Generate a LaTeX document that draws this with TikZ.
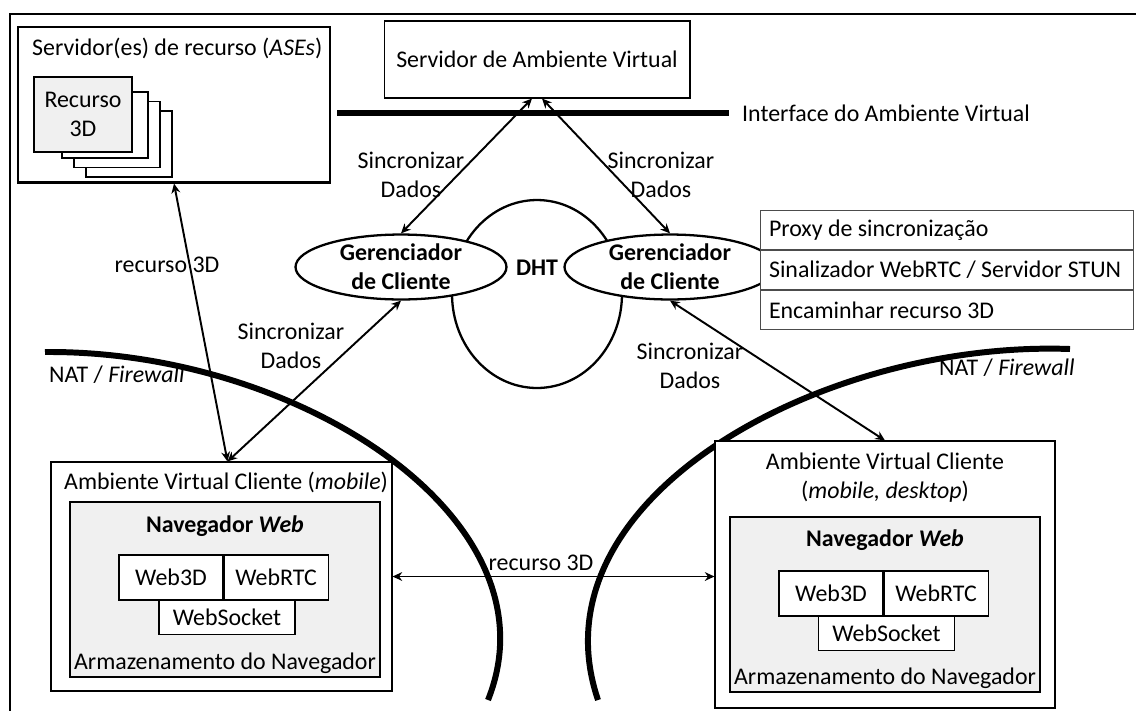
\documentclass[tikz,border=0pt]{standalone}
\usepackage{fontspec}
\setmainfont{Carlito}
\usetikzlibrary{positioning,fit,shapes.geometric,arrows.meta}

\newcommand{\figfont}{\fontsize{13.6}{16.5}\selectfont}

\tikzset{
  box/.style={draw, line width=0.6pt, inner sep=0pt},
  graybox/.style={box, fill=gray!12},
  cell/.style={draw, fill=white, line width=0.6pt, inner sep=0pt, minimum height=0.9cm},
  mgr/.style={ellipse, draw, fill=white, line width=1.3pt, inner sep=0pt,
    minimum width=4.22cm, minimum height=1.1cm, align=center, font=\figfont\bfseries},
  tabrow/.style={draw=black!70, fill=white, line width=0.6pt, anchor=north west,
    minimum height=0.78cm, text width=7.12cm, inner xsep=0.17cm, align=flush left},
  link/.style={{Stealth[length=5.5pt,width=5pt]}-{Stealth[length=5.5pt,width=5pt]}, line width=1.1pt},
  wall/.style={line width=3.4pt},
  lbl/.style={align=center, inner sep=0pt}
}

\begin{document}
\begin{tikzpicture}[x=0.02cm, y=-0.02cm, font=\figfont]
  \useasboundingbox (0,0) rectangle (1136,711);

  % frame
  \draw[line width=1.7pt] (1136,14) -- (10,14) -- (10,711);

  % resource servers
  \node (res) [box, line width=1.7pt, fit={(18,27) (330,182)}] {};
  \node (resT) [anchor=west] at (26,48) {Servidor(es) de recurso (\textit{ASEs})};
  \foreach \k in {3,2,1}
    \draw[fill=white, line width=0.6pt] (50+12*\k, 82.5+9.5*\k) rectangle ++(86,66);
  \node (res3d) [graybox, minimum width=1.96cm, minimum height=1.5cm, align=center]
    at (83,114.5) {Recurso\\3D};

  % virtual environment server
  \node (vsrv) [box, minimum width=6.12cm, minimum height=1.54cm] at (537,59.5)
    {Servidor de Ambiente Virtual};
  \draw[line width=3.4pt] (337,113) -- (729,113);
  \node (ifcT) [anchor=west] at (736,113) {Interface do Ambiente Virtual};

  % DHT
  \node (dht) [ellipse, draw, line width=1.3pt, minimum width=3.4cm, minimum height=3.76cm] at (537,294) {};
  \node (dhtT) [font=\figfont\bfseries] at (537,268) {DHT};

  % client managers
  \node (mgrL) [mgr] at (401,267) {Gerenciador\\de Cliente};
  \node (mgrR) [mgr] at (670,267) {Gerenciador\\de Cliente};

  % proxy functions
  \node (prx1) [tabrow] at (760,210) {Proxy de sincronização};
  \node (prx2) [tabrow] at (prx1.south west) {Sinalizador WebRTC / Servidor STUN};
  \node (prx3) [tabrow] at (prx2.south west) {Encaminhar recurso 3D};

  % NAT / firewall
  \draw[wall] (45,352) .. controls (300,350) and (560,520) .. (488,700);
  \draw[wall] (1070,349) .. controls (820,340) and (530,500) .. (598,700);
  \node (natL) [anchor=west] at (43,375) {NAT / \textit{Firewall}};
  \node (natR) [anchor=west] at (933,368) {NAT / \textit{Firewall}};

  % mobile client
  \node (cliL) [box, fill=white, fit={(51,462) (392,691)}] {};
  \node (cliLT) [anchor=west] at (58,482) {Ambiente Virtual Cliente (\textit{mobile})};
  \node (navL) [graybox, fit={(70,502) (380,677)}] {};
  \node (navLT) at (225,526) {\bfseries Navegador \textit{Web}};
  \node (w3dL) [cell, minimum width=2.08cm] at (171,577.5) {Web3D};
  \node (rtcL) [cell, minimum width=2.08cm, right=0pt of w3dL] {WebRTC};
  \node (wsL) [cell, minimum width=2.72cm, minimum height=0.68cm, anchor=north] at (227,600) {WebSocket};
  \node (stoL) at (225,663) {Armazenamento do Navegador};

  % mobile / desktop client
  \node (cliR) [box, fill=white, fit={(715,441) (1055,708)}] {};
  \node (cliRT) [lbl] at (885,477.5) {Ambiente Virtual Cliente\\(\textit{mobile, desktop})};
  \node (navR) [graybox, fit={(730,517) (1040,692)}] {};
  \node (navRT) at (885,540) {\bfseries Navegador \textit{Web}};
  \node (w3dR) [cell, minimum width=2.08cm] at (831,593.5) {Web3D};
  \node (rtcR) [cell, minimum width=2.08cm, right=0pt of w3dR] {WebRTC};
  \node (wsR) [cell, minimum width=2.72cm, minimum height=0.68cm, anchor=north] at (886.5,616) {WebSocket};
  \node (stoR) at (885,678) {Armazenamento do Navegador};

  % connectors
  \draw[link] ([xshift=-0.1cm]vsrv.south) -- (mgrL.north);
  \draw[link] ([xshift=0.1cm]vsrv.south) -- (mgrR.north);
  \draw[link] (mgrL.south) -- ([xshift=0.12cm]cliL.north);
  \draw[link] (mgrR.south) -- (cliR.north);
  \draw[link] (res.south) -- ([xshift=0.12cm]cliL.north);
  \draw[link] (cliL.east) -- (cliL.east -| cliR.west);

  \node (syncA) [lbl] at (411,175) {Sincronizar\\Dados};
  \node (syncB) [lbl] at (661,175) {Sincronizar\\Dados};
  \node (syncC) [lbl] at (291,346) {Sincronizar\\Dados};
  \node (syncD) [lbl] at (690,366) {Sincronizar\\Dados};
  \node (recA) at (167,265) {recurso 3D};
  \node (recB) at (541,563) {recurso 3D};
\end{tikzpicture}
\end{document}
